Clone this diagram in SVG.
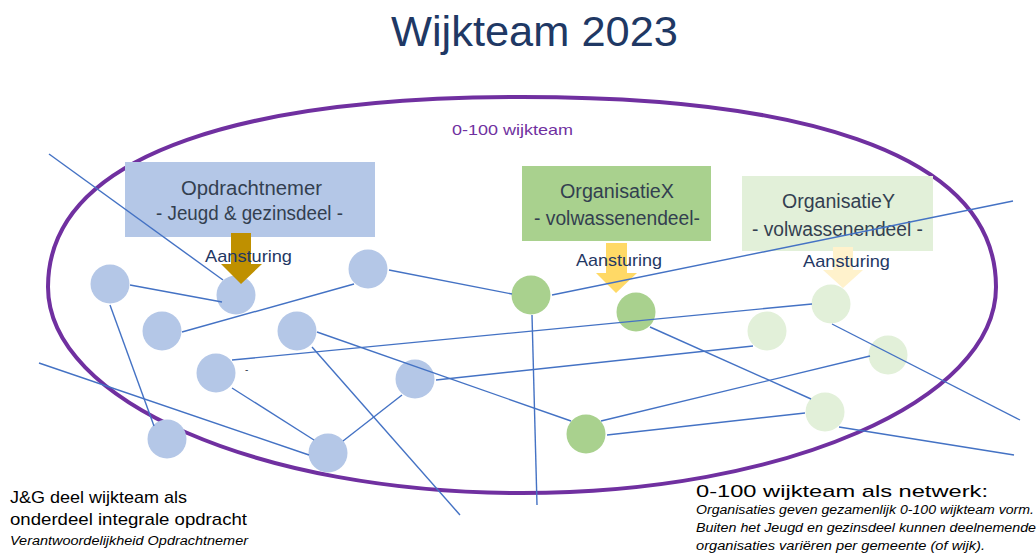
<svg xmlns="http://www.w3.org/2000/svg" width="1036" height="554" viewBox="0 0 1036 554">
<style>
text{font-family:"Liberation Sans",Arial,sans-serif}
.bt{font-size:20px;fill:#333F50}
.aan{font-size:17px;fill:#1F3864}
.blue{fill:#B4C7E7}
.green{fill:#A9D18E}
.lgreen{fill:#E2F0D9}
.cn line{stroke:#4472C4;stroke-width:1.4}
.blk{fill:#000}
</style>
<rect width="1036" height="554" fill="#fff"/>
<text x="391" y="46" font-size="43" fill="#203864" textLength="287" lengthAdjust="spacingAndGlyphs">Wijkteam 2023</text>
<path id="wijkteam" d="M48,287 C48,148 261,97 522,97 C783,97 996,146 996,287 C996,401 784,493 522,493 C260,493 48,401 48,287 Z" fill="none" stroke="#7030A0" stroke-width="4"/>
<text x="452" y="135" font-size="15" fill="#7030A0" textLength="121" lengthAdjust="spacingAndGlyphs">0-100 wijkteam</text>

<g id="nodes-blue">
<circle id="c1" class="blue" cx="110" cy="284" r="19.5"/>
<circle id="c2" class="blue" cx="236" cy="295" r="19.5"/>
<circle id="c3" class="blue" cx="368" cy="269" r="19.5"/>
<circle id="c4" class="blue" cx="162" cy="331" r="19.5"/>
<circle id="c5" class="blue" cx="297" cy="331" r="19.5"/>
<circle id="c6" class="blue" cx="216" cy="373" r="19.5"/>
<circle id="c7" class="blue" cx="415" cy="379" r="19.5"/>
<circle id="c8" class="blue" cx="167" cy="439" r="19.5"/>
<circle id="c9" class="blue" cx="328" cy="453" r="19.5"/>
</g>
<g id="nodes-green">
<circle id="g1" class="green" cx="531" cy="295" r="19.5"/>
<circle id="g2" class="green" cx="636" cy="312" r="19.5"/>
<circle id="g3" class="green" cx="586" cy="434" r="19.5"/>
</g>
<g id="nodes-lightgreen">
<circle id="l1" class="lgreen" cx="831" cy="304" r="19.5"/>
<circle id="l2" class="lgreen" cx="767" cy="331" r="19.5"/>
<circle id="l3" class="lgreen" cx="888" cy="355" r="19.5"/>
<circle id="l4" class="lgreen" cx="825" cy="412" r="19.5"/>
</g>

<g id="opdrachtnemer">
<rect class="blue" x="125" y="162" width="250" height="75"/>
<text class="bt" x="181" y="195" textLength="141" lengthAdjust="spacingAndGlyphs">Opdrachtnemer</text>
<text class="bt" x="156" y="220" textLength="187" lengthAdjust="spacingAndGlyphs">- Jeugd &amp; gezinsdeel -</text>
</g>
<g id="organisatieX">
<rect class="green" x="522" y="166" width="189" height="75"/>
<text class="bt" x="560" y="198" textLength="114" lengthAdjust="spacingAndGlyphs">OrganisatieX</text>
<text class="bt" x="534" y="225" textLength="166" lengthAdjust="spacingAndGlyphs">- volwassenendeel-</text>
</g>
<g id="organisatieY">
<rect class="lgreen" x="742" y="176" width="191" height="75"/>
<text class="bt" x="782" y="208" textLength="113" lengthAdjust="spacingAndGlyphs">OrganisatieY</text>
<text class="bt" x="752" y="236" textLength="171" lengthAdjust="spacingAndGlyphs">- volwassenendeel -</text>
</g>

<g id="aansturing">
<polygon fill="#BF9000" points="231,233 251,233 251,264 262,264 241,284 221,264 231,264"/>
<polygon fill="#FFD966" points="606,243 627,243 627,273 637,273 616,293 596,273 606,273"/>
<polygon fill="#FFF2CC" points="833,247 853,247 853,270 863,270 843,288 823,270 833,270"/>
<text class="aan" x="205" y="262" textLength="87" lengthAdjust="spacingAndGlyphs">Aansturing</text>
<text class="aan" x="576" y="266" textLength="86" lengthAdjust="spacingAndGlyphs">Aansturing</text>
<text class="aan" x="803" y="267" textLength="87" lengthAdjust="spacingAndGlyphs">Aansturing</text>
</g>
<text x="245" y="373" font-size="10" fill="#333F50">-</text>

<g id="connectors" class="cn">
<line x1="49" y1="154" x2="223" y2="280"/>
<line x1="130" y1="285" x2="222" y2="302"/>
<line x1="182" y1="332" x2="354" y2="284"/>
<line x1="389" y1="270" x2="512" y2="294"/>
<line x1="232" y1="360" x2="812" y2="304"/>
<line x1="317" y1="332" x2="571" y2="421"/>
<line x1="312" y1="347" x2="460" y2="515"/>
<line x1="232" y1="388" x2="314" y2="440"/>
<line x1="343" y1="441" x2="402" y2="395"/>
<line x1="436" y1="380" x2="753" y2="346"/>
<line x1="110" y1="305" x2="154" y2="426"/>
<line x1="39" y1="363" x2="309" y2="455"/>
<line x1="552" y1="295" x2="1013" y2="201"/>
<line x1="532" y1="315" x2="537" y2="505"/>
<line x1="650" y1="327" x2="811" y2="399"/>
<line x1="601" y1="421" x2="870" y2="356"/>
<line x1="607" y1="435" x2="805" y2="413"/>
<line x1="832" y1="324" x2="1020" y2="420"/>
<line x1="839" y1="427" x2="1014" y2="455"/>
</g>

<g id="note-left">
<text class="blk" x="10" y="503" font-size="17" textLength="177" lengthAdjust="spacingAndGlyphs">J&amp;G deel wijkteam als</text>
<text class="blk" x="10" y="525" font-size="17" textLength="237" lengthAdjust="spacingAndGlyphs">onderdeel integrale opdracht</text>
<text class="blk" x="10" y="545" font-size="12.5" font-style="italic" textLength="238" lengthAdjust="spacingAndGlyphs">Verantwoordelijkheid Opdrachtnemer</text>
</g>
<g id="note-right">
<text class="blk" x="696" y="497" font-size="17" textLength="292" lengthAdjust="spacingAndGlyphs">0-100 wijkteam als netwerk:</text>
<text class="blk" x="696" y="514" font-size="12.5" font-style="italic" textLength="338" lengthAdjust="spacingAndGlyphs">Organisaties geven gezamenlijk 0-100 wijkteam vorm.</text>
<text class="blk" x="696" y="532" font-size="12.5" font-style="italic" textLength="340" lengthAdjust="spacingAndGlyphs">Buiten het Jeugd en gezinsdeel kunnen deelnemende</text>
<text class="blk" x="696" y="550" font-size="12.5" font-style="italic" textLength="289" lengthAdjust="spacingAndGlyphs">organisaties variëren per gemeente (of wijk).</text>
</g>
</svg>
